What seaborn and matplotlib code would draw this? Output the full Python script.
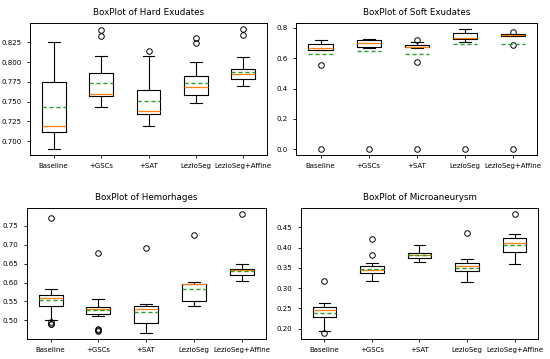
import matplotlib
matplotlib.use("Agg")
import matplotlib.pyplot as plt
import matplotlib.ticker as mticker
import pandas as pd
import seaborn as sns

methods = ["Baseline", "+GSCs", "+SAT", "LezioSeg", "LezioSeg+Affine"]

# per-image scores, one list per method (same order as methods)
hard_exudates = [
    [0.690, 0.700, 0.708, 0.712, 0.714, 0.717, 0.719, 0.745, 0.753, 0.775, 0.790, 0.810, 0.826],
    [0.743, 0.744, 0.745, 0.757, 0.757, 0.758, 0.760, 0.760, 0.760, 0.786, 0.808, 0.833, 0.841],
    [0.719, 0.725, 0.730, 0.735, 0.736, 0.737, 0.738, 0.740, 0.741, 0.765, 0.775, 0.808, 0.814],
    [0.748, 0.750, 0.750, 0.750, 0.758, 0.763, 0.763, 0.763, 0.769, 0.772, 0.772, 0.772,
     0.782, 0.784, 0.800, 0.824, 0.831],
    [0.770, 0.772, 0.772, 0.772, 0.772, 0.779, 0.781, 0.781, 0.781, 0.781, 0.785, 0.786,
     0.786, 0.786, 0.786, 0.791, 0.792, 0.792, 0.807, 0.835, 0.842],
]

soft_exudates = [
    [0.0, 0.552, 0.652, 0.652, 0.652, 0.653, 0.653, 0.653, 0.666, 0.667, 0.667, 0.667,
     0.693, 0.695, 0.695, 0.695, 0.7215],
    [0.0, 0.670, 0.674, 0.677, 0.690, 0.697, 0.699, 0.708, 0.715, 0.7195, 0.724, 0.726, 0.728],
    [0.0, 0.574, 0.668, 0.672, 0.675, 0.677, 0.677, 0.685, 0.688, 0.688, 0.700, 0.705, 0.718],
    [0.0, 0.704, 0.724, 0.726, 0.729, 0.731, 0.732, 0.750, 0.762, 0.766, 0.780, 0.790, 0.793],
    [0.0, 0.690, 0.745, 0.748, 0.750, 0.752, 0.753, 0.755, 0.756, 0.757, 0.760, 0.762, 0.774],
]

hemorhages = [
    [0.490, 0.491, 0.494, 0.500, 0.539, 0.539, 0.540, 0.540, 0.560, 0.560, 0.560, 0.561,
     0.566, 0.566, 0.567, 0.584, 0.772],
    [0.471, 0.474, 0.478, 0.511, 0.517, 0.517, 0.518, 0.518, 0.531, 0.531, 0.532, 0.532,
     0.535, 0.535, 0.536, 0.555, 0.678],
    [0.466, 0.466, 0.467, 0.492, 0.492, 0.493, 0.531, 0.531, 0.532, 0.539, 0.539, 0.543, 0.691],
    [0.539, 0.539, 0.540, 0.552, 0.552, 0.552, 0.595, 0.595, 0.595, 0.596, 0.596, 0.601, 0.727],
    [0.605, 0.605, 0.606, 0.606, 0.607, 0.620, 0.620, 0.620, 0.620, 0.620, 0.633, 0.633,
     0.633, 0.633, 0.633, 0.635, 0.635, 0.635, 0.635, 0.650, 0.782],
]

microaneurysm = [
    [0.189, 0.194, 0.210, 0.229, 0.230, 0.232, 0.245, 0.245, 0.246, 0.253, 0.257, 0.2625, 0.318],
    [0.317, 0.318, 0.320, 0.322, 0.337, 0.337, 0.338, 0.338, 0.345, 0.345, 0.346, 0.346,
     0.354, 0.354, 0.362, 0.382, 0.421],
    [0.364, 0.368, 0.373, 0.376, 0.381, 0.383, 0.387, 0.390, 0.407],
    [0.314, 0.315, 0.316, 0.317, 0.342, 0.342, 0.342, 0.342, 0.354, 0.354, 0.354, 0.354,
     0.362, 0.362, 0.363, 0.371, 0.437],
    [0.360, 0.365, 0.372, 0.388, 0.392, 0.398, 0.4105, 0.415, 0.420, 0.4245, 0.428, 0.434, 0.483],
]


def long_form(groups):
    rows = [(m, v) for m, vals in zip(methods, groups) for v in vals]
    return pd.DataFrame(rows, columns=["method", "score"])


def draw_box(ax, groups, title, step, fmt):
    sns.boxplot(
        data=long_form(groups), x="method", y="score", order=methods, ax=ax,
        fill=False, color="black", width=0.5, linewidth=0.8, whis=1.5,
        showmeans=True, meanline=True,
        medianprops=dict(color="#ff7f0e", linewidth=0.9),
        meanprops=dict(color="#2ca02c", linestyle=(0, (3, 2)), linewidth=1.0),
        flierprops=dict(marker="o", markerfacecolor="none", markeredgecolor="black",
                        markersize=4, markeredgewidth=0.7),
    )
    ax.set_title(title, fontsize=6.3)
    ax.set(xlabel="", ylabel="")
    ax.yaxis.set_major_locator(mticker.MultipleLocator(step))
    ax.yaxis.set_major_formatter(mticker.FormatStrFormatter(fmt))
    ax.tick_params(labelsize=5, length=2.5, width=0.6)
    for sp in ax.spines.values():
        sp.set_linewidth(0.7)


fig = plt.figure(figsize=(5.5, 3.59), dpi=100)
ax1 = fig.add_axes([0.0545, 0.568, 0.431, 0.368])
ax2 = fig.add_axes([0.539, 0.568, 0.438, 0.368])
ax3 = fig.add_axes([0.0485, 0.0557, 0.4345, 0.365])
ax4 = fig.add_axes([0.5467, 0.0557, 0.432, 0.365])

draw_box(ax1, hard_exudates, "BoxPlot of Hard Exudates", 0.025, "%.3f")
draw_box(ax2, soft_exudates, "BoxPlot of Soft Exudates", 0.2, "%.1f")
draw_box(ax3, hemorhages, "BoxPlot of Hemorhages", 0.05, "%.2f")
draw_box(ax4, microaneurysm, "BoxPlot of Microaneurysm", 0.05, "%.2f")

fig.savefig("out.png", dpi=100)
